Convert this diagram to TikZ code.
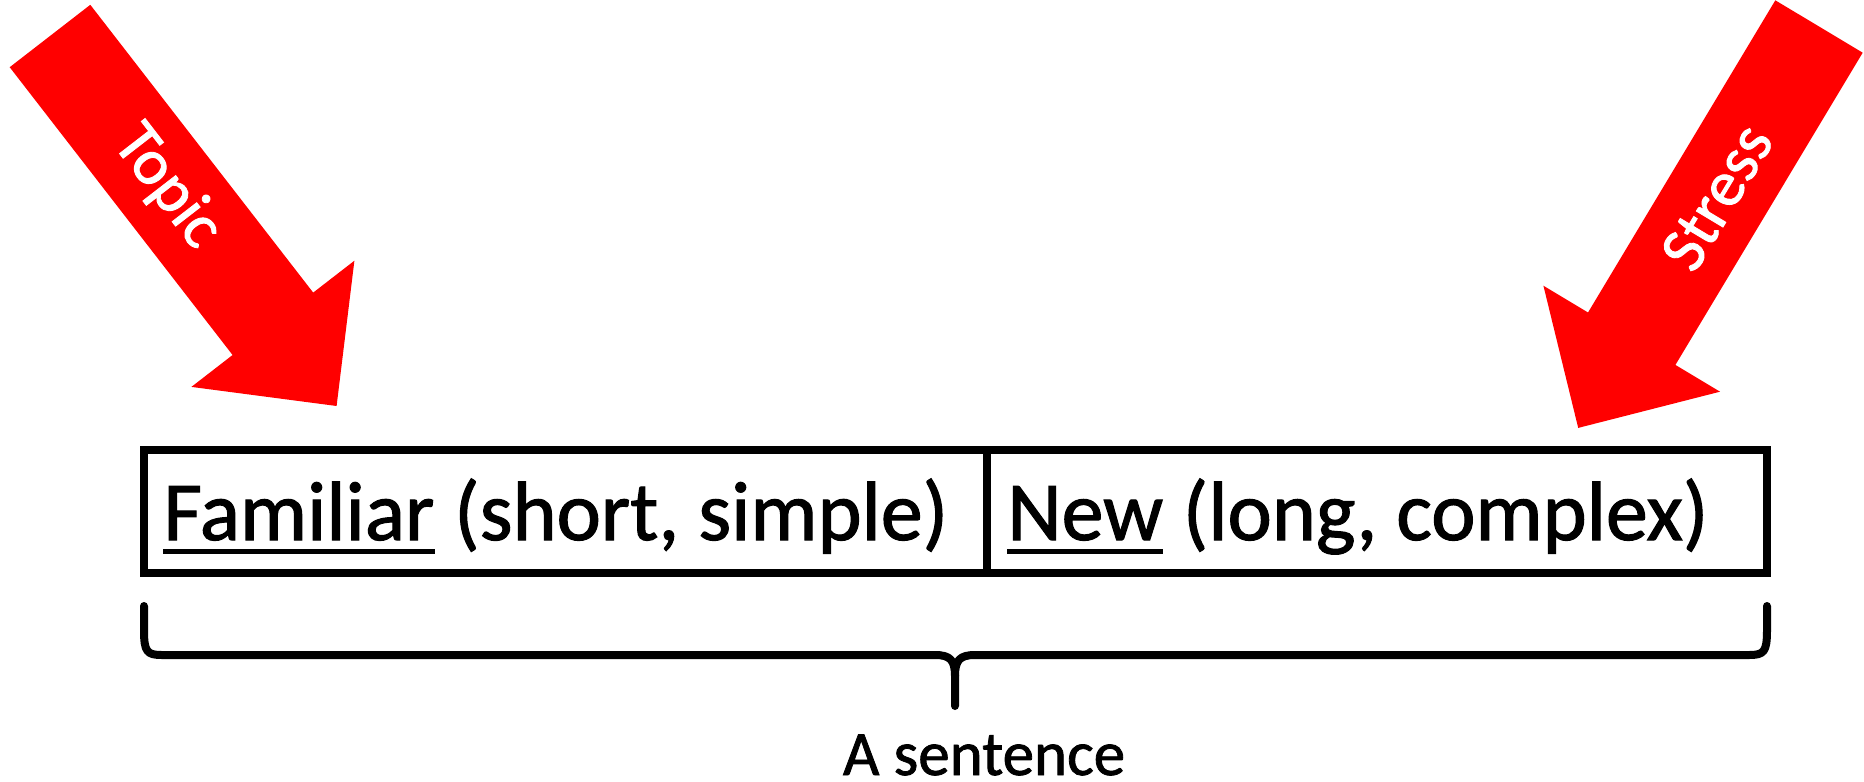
\documentclass[tikz,border=0pt]{standalone}
\usepackage{fontspec}
\setmainfont{Carlito}[RawFeature={embolden=1.3}]
\begin{document}
\begin{tikzpicture}[x=0.5pt, y=-0.5pt,
  cell/.style={draw, line width=3.75pt, inner sep=0pt, minimum height=61.5pt},
  bigtext/.style={inner sep=0pt, anchor=base west, font=\fontsize{42}{50}\selectfont},
  arrowtext/.style={inner sep=0pt, text=white, font=\fontsize{32.5}{39}\selectfont},
  uline/.style={line width=2.5pt},
  bracepath/.style={line width=4pt, line cap=round, line join=round}]
\useasboundingbox (0,0) rectangle (1864,782);
% block arrows
\fill[red] (90.3,4.8) -- (313.2,292.6) -- (354.4,260.7) -- (336.6,406.0) -- (191.4,386.9) -- (232.6,355.0) -- (9.7,67.2) -- cycle;
\node[arrowtext, rotate=-52.3] (topic) at (167,187) {Topic};
\fill[red] (1775.3,0.3) -- (1588.0,312.5) -- (1543.4,285.7) -- (1578.2,427.9) -- (1720.0,391.7) -- (1675.4,364.9) -- (1862.7,52.7) -- cycle;
\node[arrowtext, rotate=59] (stress) at (1716.7,197) {Stress};
% the sentence
\node[cell, minimum width=421.5pt] (oldcell) at (565.5,511.5) {};
\node[cell, minimum width=390pt] (newcell) at (1377,511.5) {};
\node[bigtext] (familiar) at (163,540) {Familiar};
\node[bigtext] (oldrest) at (familiar.base east) {\ (short, simple)};
\draw[uline] ([yshift=-5.75pt]familiar.base west) -- ([yshift=-5.75pt]familiar.base east);
\node[bigtext] (newword) at (1007,540) {New};
\node[bigtext] (newrest) at (newword.base east) {\ (long, complex)};
\draw[uline] ([yshift=-5.75pt]newword.base west) -- ([yshift=-5.75pt]newword.base east);
% brace
\draw[bracepath] (144,606) -- (144,630) .. controls (144,652) and (147,655) .. (162,655) -- (935,655) .. controls (950,655) and (955,660) .. (955,676) -- (955,706);
\draw[bracepath] (1767,606) -- (1767,630) .. controls (1767,652) and (1764,655) .. (1749,655) -- (975,655) .. controls (960,655) and (955,660) .. (955,676);
\node[font=\fontsize{31.5}{38}\selectfont, anchor=base, inner sep=0pt] (sentence) at (984,775) {A sentence};
\end{tikzpicture}
\end{document}
